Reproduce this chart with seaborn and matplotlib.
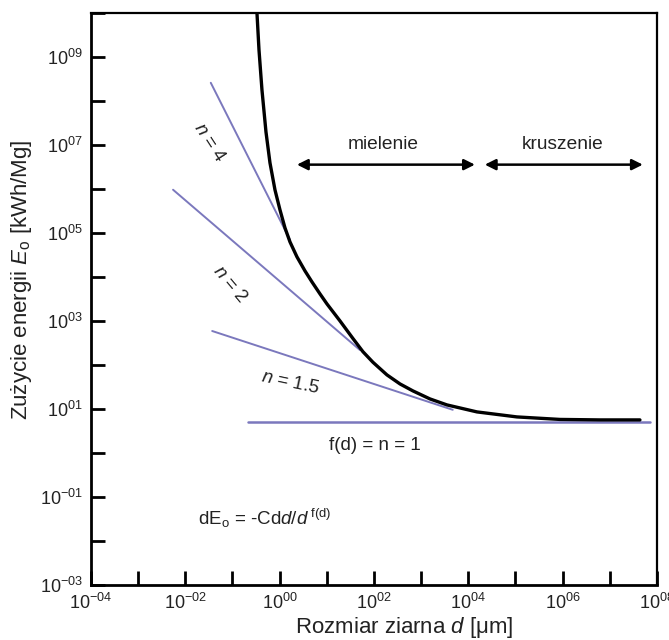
import numpy as np
import pandas as pd
import matplotlib
matplotlib.use("Agg")
import matplotlib.pyplot as plt
import seaborn as sns

# ---- data (log10 values) ----
curve_logd = [-0.481, -0.438, -0.375, -0.290, -0.205, -0.099, 0.007, 0.113, 0.219, 0.367, 0.537,
              0.685, 0.855, 1.003, 1.279, 1.554, 1.766, 1.978, 2.275, 2.551, 2.826, 3.187, 3.547,
              4.183, 5.031, 5.943, 6.79, 7.639]
curve_logE = [10.0, 9.159, 8.25, 7.295, 6.591, 5.977, 5.523, 5.114, 4.795, 4.455, 4.136,
              3.886, 3.614, 3.386, 3.0, 2.60, 2.30, 2.06, 1.773, 1.568, 1.409, 1.227, 1.091,
              0.932, 0.818, 0.761, 0.75, 0.75]

n4_logd = [-1.46, 0.22]
n4_logE = [8.41, 4.84]
n2_logd = [-2.26, 1.70]
n2_logE = [5.98, 2.34]
n15_logd = [-1.43, 3.67]
n15_logE = [2.77, 0.98]
n1_logd = [-0.67, 7.85]
n1_logE = [0.70, 0.70]

x_ticks_exp = list(range(-4, 9))
y_ticks_exp = list(range(-3, 11))

# ---- style ----
sns.set_style("white")
plt.rcParams['font.family'] = ['Liberation Sans', 'DejaVu Sans']
plt.rcParams['mathtext.fontset'] = 'custom'
plt.rcParams['mathtext.rm'] = 'Liberation Sans'
plt.rcParams['mathtext.it'] = 'Liberation Sans:italic'
plt.rcParams['mathtext.bf'] = 'Liberation Sans:bold'

fig = plt.figure(figsize=(6.69, 6.40), dpi=100)
ax = fig.add_axes([0.136, 0.086, 0.846, 0.894])
ax.set_xscale('log')
ax.set_yscale('log')

blue = '#7b78bd'

def pw(v):
    return [10.0 ** a for a in v]

lines = [
    (n4_logd, n4_logE, blue, 1.4),
    (n2_logd, n2_logE, blue, 1.4),
    (n15_logd, n15_logE, blue, 1.4),
    (n1_logd, n1_logE, blue, 1.8),
    (curve_logd, curve_logE, 'black', 2.4),
]
for xs, ys, c, lw in lines:
    df = pd.DataFrame({'d': pw(xs), 'E': pw(ys)})
    sns.lineplot(data=df, x='d', y='E', ax=ax, color=c, lw=lw, estimator=None, sort=False)

ax.set_xlim(1e-4, 1e8)
ax.set_ylim(1e-3, 1e10)

# ticks
def lab(e):
    s = f"{e:03d}" if e < 0 else f"{e:02d}"
    return "10$^{" + s + "}$"

ax.xaxis.set_major_locator(matplotlib.ticker.FixedLocator([10.0 ** e for e in x_ticks_exp]))
ax.xaxis.set_minor_locator(matplotlib.ticker.NullLocator())
ax.set_xticklabels([lab(e) if e % 2 == 0 else '' for e in x_ticks_exp])
ax.yaxis.set_major_locator(matplotlib.ticker.FixedLocator([10.0 ** e for e in y_ticks_exp]))
ax.yaxis.set_minor_locator(matplotlib.ticker.NullLocator())
ax.set_yticklabels([lab(e) if e % 2 == 1 else '' for e in y_ticks_exp])
ax.tick_params(axis='both', which='major', direction='in', length=10, width=2,
               labelsize=13, pad=6, color='black', labelcolor='#222222',
               bottom=True, left=True, top=False, right=False)

for side in ['left', 'bottom']:
    ax.spines[side].set_linewidth(2.0)
    ax.spines[side].set_color('black')
for side in ['top', 'right']:
    ax.spines[side].set_linewidth(1.6)
    ax.spines[side].set_color('black')

ax.set_xlabel(r'Rozmiar ziarna $d$ [$\mathrm{\mu}$m]', fontsize=16, color='#222222')
ax.set_ylabel(r'Zużycie energii $E_{\mathrm{o}}$ [kWh/Mg]', fontsize=16, color='#222222')
ax.xaxis.set_label_coords(0.553, -0.052)
ax.yaxis.set_label_coords(-0.10, 0.533)

# arrows
arrow_kw = dict(arrowstyle='<|-|>', color='black', lw=1.8, mutation_scale=16, shrinkA=0, shrinkB=0)
ya = 10 ** 6.55
ax.annotate('', xy=(10 ** 0.367, ya), xytext=(10 ** 4.14, ya), arrowprops=arrow_kw)
ax.annotate('', xy=(10 ** 4.35, ya), xytext=(10 ** 7.70, ya), arrowprops=arrow_kw)
ax.text(10 ** 2.2, 10 ** 7.0, 'mielenie', fontsize=13.8, ha='center', va='center', color='#222222')
ax.text(10 ** 6.0, 10 ** 7.0, 'kruszenie', fontsize=13.8, ha='center', va='center', color='#222222')

# line labels
ax.text(10 ** -1.48, 10 ** 7.05, r'$n$ = 4', fontsize=13.5, rotation=-57, ha='center', va='center', color='#222222')
ax.text(10 ** -1.05, 10 ** 3.82, r'$n$ = 2', fontsize=13.5, rotation=-50, ha='center', va='center', color='#222222')
ax.text(10 ** 0.22, 10 ** 1.60, r'$n$ = $1.5$', fontsize=13.5, rotation=-12, ha='center', va='center',
        color='#222222', style='italic')
ax.text(10 ** 2.02, 10 ** 0.18, 'f(d) = n = 1', fontsize=13.5, ha='center', va='center', color='#222222')
ax.text(10 ** -1.73, 10 ** -1.48, r'dE$_{\mathrm{o}}$ = -Cd$d$/$d$$^{\ \mathrm{f(d)}}$', fontsize=13.5,
        ha='left', va='center', color='#222222')

fig.savefig('out.png', dpi=100, facecolor='white')
